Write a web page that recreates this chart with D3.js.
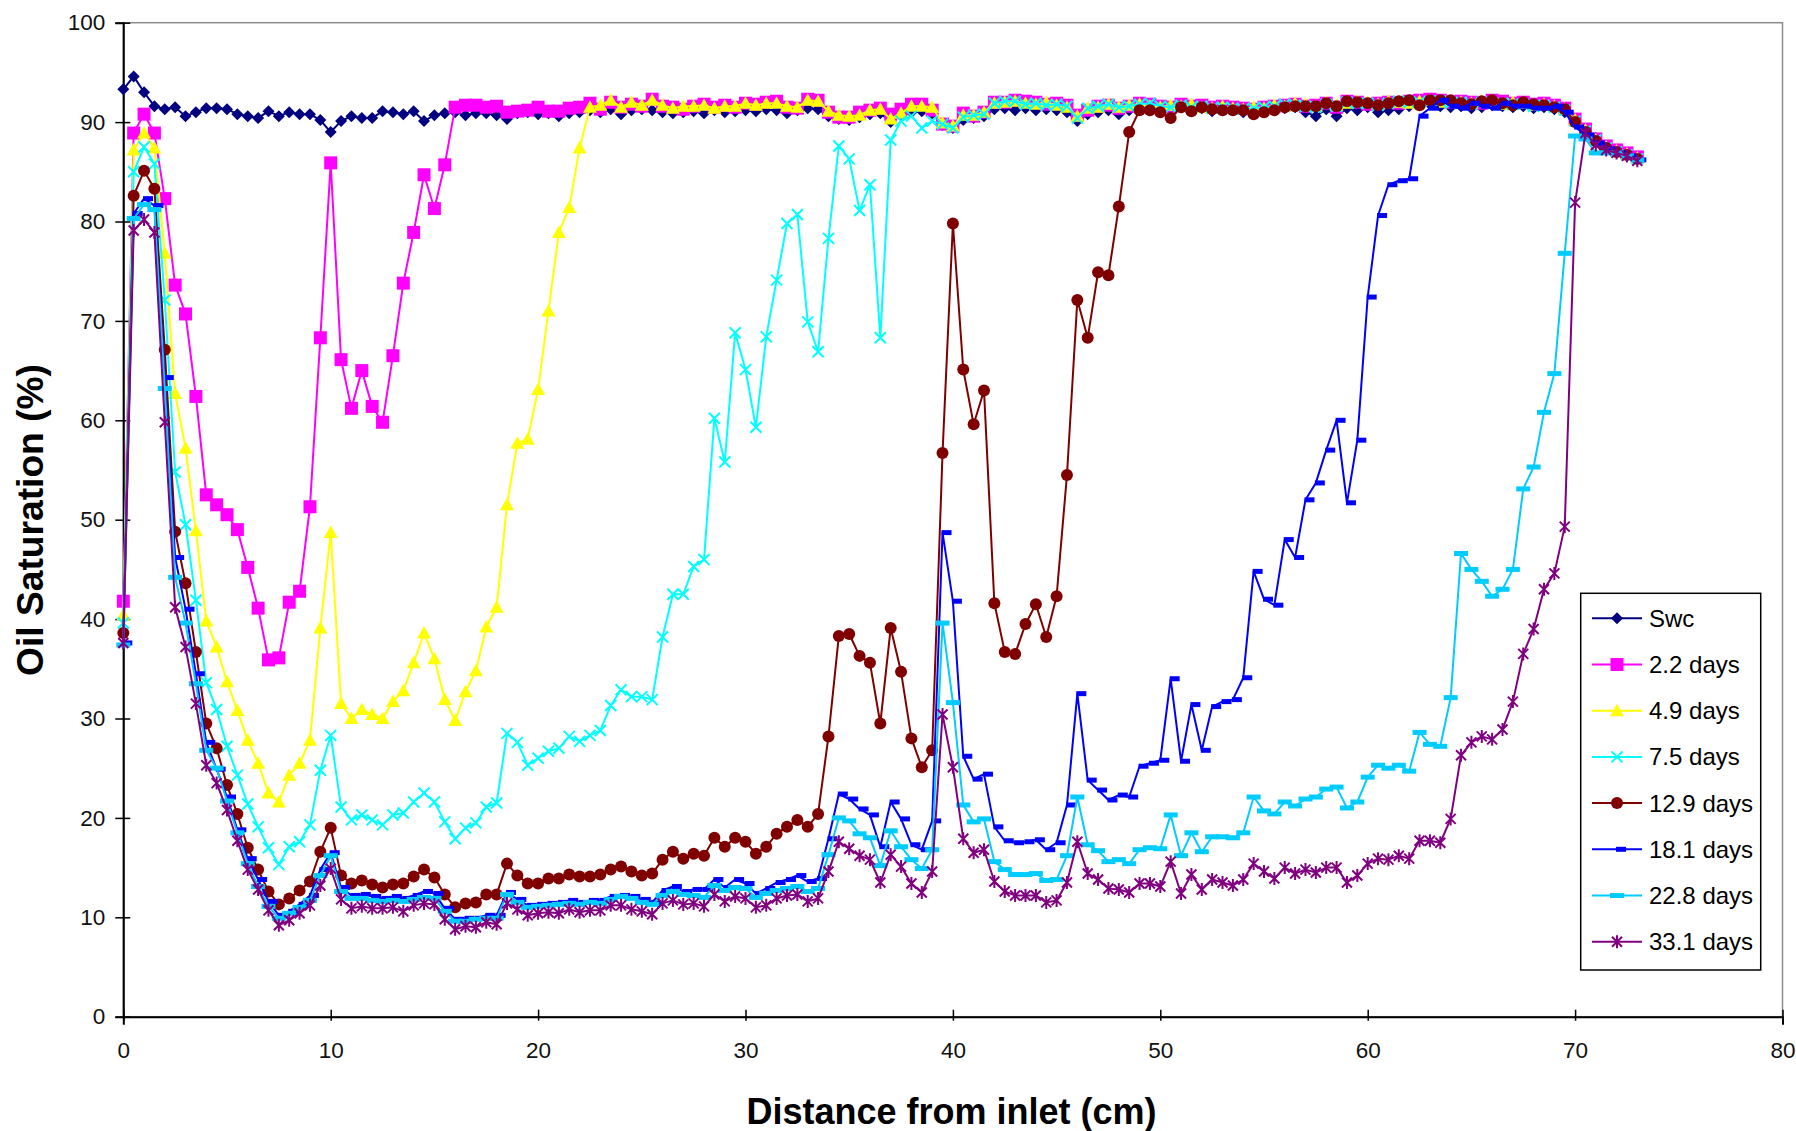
<!DOCTYPE html>
<html><head><meta charset="utf-8">
<script src="https://cdn.jsdelivr.net/npm/d3@7/dist/d3.min.js"></script>
<style>body{margin:0;background:#fff}svg{display:block}</style>
</head><body>
<svg id="c" width="1796" height="1131"></svg>
<script>
// distance from inlet (cm)
const distance = [
0,0.5,1,1.5,2,2.5,3,3.5,4,4.5,
5,5.5,6,6.5,7,7.5,8,8.5,9,9.5,
10,10.5,11,11.5,12,12.5,13,13.5,14,14.5,
15,15.5,16,16.5,17,17.5,18,18.5,19,19.5,
20,20.5,21,21.5,22,22.5,23,23.5,24,24.5,
25,25.5,26,26.5,27,27.5,28,28.5,29,29.5,
30,30.5,31,31.5,32,32.5,33,33.5,34,34.5,
35,35.5,36,36.5,37,37.5,38,38.5,39,39.5,
40,40.5,41,41.5,42,42.5,43,43.5,44,44.5,
45,45.5,46,46.5,47,47.5,48,48.5,49,49.5,
50,50.5,51,51.5,52,52.5,53,53.5,54,54.5,
55,55.5,56,56.5,57,57.5,58,58.5,59,59.5,
60,60.5,61,61.5,62,62.5,63,63.5,64,64.5,
65,65.5,66,66.5,67,67.5,68,68.5,69,69.5,
70,70.5,71,71.5,72,72.5,73];

const swc = [
93.3,94.6,93.0,91.6,91.3,91.5,90.6,91.0,91.4,91.4,
91.3,90.8,90.6,90.4,91.1,90.6,91.0,90.8,90.8,90.2,
89.0,90.1,90.6,90.4,90.4,91.1,91.0,90.8,91.1,90.1,
90.7,90.9,91.0,90.7,90.9,90.9,90.7,90.3,90.9,91.0,
90.8,90.9,90.6,90.9,91.0,91.2,91.0,91.3,90.8,91.2,
91.3,91.2,91.0,90.9,91.0,91.1,90.9,91.2,91.0,91.1,
91.2,91.1,91.3,91.2,90.9,91.2,91.4,91.3,90.6,90.3,
90.2,90.5,90.8,90.9,90.0,90.7,91.0,91.1,90.9,89.7,
89.4,90.2,90.4,90.6,91.3,91.4,91.2,91.4,91.2,91.3,
91.2,91.0,90.1,90.8,91.0,91.2,90.8,91.2,91.4,91.3,
91.1,91.3,91.5,91.2,91.4,91.1,91.2,91.3,91.0,91.2,
91.0,91.3,91.4,91.5,91.0,90.6,91.3,90.6,91.4,91.2,
91.5,91.0,91.2,91.3,91.6,91.7,91.8,91.6,91.5,91.6,
91.4,91.5,91.7,91.6,91.5,91.6,91.4,91.5,91.3,91.0,
90.0,89.2,88.4,87.6,87.1,86.8,86.4];

const days2_2 = [
41.8,88.9,90.8,88.9,82.3,73.6,70.7,62.4,52.5,51.5,
50.5,49.0,45.2,41.1,35.9,36.1,41.7,42.8,51.3,68.3,
85.9,66.1,61.2,65.0,61.4,59.8,66.5,73.8,78.9,84.7,
81.3,85.7,91.5,91.7,91.7,91.5,91.6,91.0,91.1,91.2,
91.5,91.1,91.1,91.4,91.5,91.9,91.3,92.0,91.5,91.8,
91.6,92.3,91.6,91.5,91.3,91.6,91.8,91.5,91.7,91.5,
91.9,91.8,92.0,92.1,91.5,91.4,92.3,92.2,91.0,90.5,
90.5,91.0,91.2,91.4,90.8,91.3,91.8,91.8,91.2,89.8,
89.6,90.9,90.6,91.0,92.0,92.0,92.2,92.1,92.0,91.8,
91.9,91.7,90.7,91.2,91.6,91.7,91.4,91.6,91.9,91.8,
91.6,91.5,91.8,91.6,91.7,91.5,91.6,91.5,91.4,91.3,
91.5,91.6,91.7,91.8,91.6,91.7,91.9,91.5,92.1,92.0,
91.8,91.9,92.0,91.9,92.1,92.2,92.3,92.2,92.0,92.1,
92.0,91.9,92.2,92.1,91.9,92.0,91.8,91.9,91.7,91.4,
90.3,89.3,88.3,87.6,87.2,86.9,86.5];

const days4_9 = [
40.4,87.2,88.9,87.4,76.8,62.7,57.2,48.9,39.8,37.2,
33.7,30.8,27.8,25.5,22.5,21.6,24.3,25.5,27.8,39.1,
48.7,31.5,30.0,30.9,30.4,30.0,31.7,32.8,35.6,38.6,
36.0,31.9,29.8,32.7,34.8,39.2,41.2,51.5,57.7,58.1,
63.1,71.0,78.9,81.4,87.4,91.5,91.7,92.2,91.5,92.0,
91.7,92.2,91.7,91.4,91.6,91.6,91.7,91.4,91.6,91.6,
91.9,91.7,91.9,91.9,91.6,91.5,92.2,92.1,91.1,90.7,
90.6,90.7,91.2,91.3,90.3,90.9,91.6,91.6,91.5,89.9,
89.6,90.7,90.7,91.0,91.9,92.0,92.1,91.9,91.8,92.0,
91.7,91.5,90.6,91.4,91.5,91.8,91.5,91.7,91.8,91.6,
91.5,91.7,91.6,91.8,91.5,91.4,91.6,91.4,91.3,91.5,
91.4,91.7,91.6,91.9,91.8,91.6,92.0,91.7,91.9,92.1,
92.0,91.8,92.1,92.0,91.9,92.1,92.2,92.0,92.1,92.0,
91.9,92.1,92.0,91.8,92.0,91.9,91.7,91.8,91.6,91.3,
90.2,89.2,88.2,87.5,87.1,86.8,86.4];

const days7_5 = [
39.6,85.0,87.5,85.8,72.1,54.8,49.5,41.9,33.6,30.9,
27.2,24.3,21.4,19.1,17.0,15.3,17.1,17.6,19.3,24.8,
28.3,21.1,19.8,20.3,19.8,19.3,20.3,20.5,21.6,22.5,
21.6,19.6,17.9,19.0,19.5,21.1,21.5,28.5,27.6,25.3,
26.0,26.7,27.0,28.2,27.7,28.3,28.8,31.3,32.9,32.2,
32.2,31.9,38.2,42.5,42.5,45.3,46.0,60.2,55.8,68.8,
65.1,59.3,68.4,74.1,79.8,80.7,69.9,66.9,78.3,87.6,
86.3,81.1,83.7,68.3,88.2,90.1,90.6,89.4,90.1,89.8,
89.4,90.5,90.7,90.8,91.9,92.1,92.1,91.8,91.9,91.7,
91.8,91.6,90.4,91.4,91.6,91.8,91.5,91.6,91.8,91.9,
91.6,91.5,91.7,91.5,91.6,91.4,91.5,91.4,91.3,91.4,
91.5,91.6,91.8,91.7,91.6,91.5,91.8,91.6,92.0,91.9,
91.9,91.7,91.9,92.1,92.0,92.0,92.1,92.1,91.9,92.0,
91.8,92.0,91.9,91.9,91.8,91.8,91.6,91.7,91.5,91.2,
90.1,89.1,88.2,87.4,87.0,86.7,86.3];

const days12_9 = [
38.6,82.6,85.1,83.3,67.1,48.8,43.6,36.7,29.5,27.0,
23.3,20.4,17.0,14.8,12.6,11.3,11.9,12.7,13.6,16.6,
19.0,14.2,13.4,13.7,13.3,13.0,13.3,13.4,14.1,14.8,
14.0,12.3,11.0,11.4,11.5,12.3,12.3,15.4,14.2,13.4,
13.4,13.9,13.9,14.3,14.1,14.1,14.3,14.8,15.1,14.6,
14.2,14.4,15.8,16.6,15.9,16.4,16.2,18.0,17.1,18.0,
17.6,16.4,17.1,18.4,19.1,19.8,19.1,20.4,28.2,38.3,
38.5,36.3,35.6,29.5,39.1,34.7,28.0,25.1,26.8,56.7,
79.8,65.1,59.6,63.0,41.6,36.7,36.5,39.5,41.5,38.2,
42.3,54.5,72.1,68.3,74.9,74.6,81.5,89.0,91.2,91.2,
91.0,90.4,91.5,91.1,91.5,91.3,91.2,91.2,91.2,90.8,
91.0,91.2,91.5,91.6,91.6,91.6,91.9,91.6,92.1,92.0,
91.9,91.7,91.9,92.1,92.2,91.7,92.2,92.2,92.2,91.9,
91.8,92.1,92.2,91.9,91.7,92.0,91.8,91.7,91.5,91.3,
90.0,89.0,88.1,87.4,87.0,86.7,86.3];

const days18_1 = [
37.6,80.8,82.3,81.6,64.3,46.2,41.0,34.5,27.6,24.9,
22.1,18.8,15.9,13.8,11.6,10.2,10.6,11.3,12.2,14.8,
16.5,13.0,12.2,12.3,12.1,11.9,12.1,11.9,12.2,12.6,
12.4,10.9,9.8,9.9,9.9,10.2,10.2,12.5,11.8,11.2,
11.3,11.4,11.5,11.7,11.5,11.7,11.7,12.1,12.2,12.1,
11.8,11.5,12.7,13.1,12.6,12.8,12.8,13.8,13.0,13.8,
13.4,12.4,12.9,13.5,13.8,14.2,13.6,13.9,17.9,22.4,
21.9,20.9,20.3,17.1,21.6,19.9,17.3,16.8,19.7,48.7,
41.8,26.2,23.9,24.4,19.1,17.7,17.5,17.6,17.8,16.8,
17.5,21.3,32.5,23.8,22.8,21.8,22.3,22.1,25.2,25.5,
25.8,34.0,25.7,31.4,26.8,31.2,31.7,31.9,34.1,44.8,
42.0,41.4,48.0,46.2,52.0,53.7,57.0,60.0,51.7,58.0,
72.4,80.6,83.7,84.1,84.3,90.6,91.4,92.2,91.6,91.4,
91.9,91.6,91.4,91.9,91.6,91.6,91.4,91.4,91.6,91.0,
89.5,88.7,87.9,87.3,86.9,86.6,86.2];

const days22_8 = [
37.4,80.3,81.7,81.2,63.2,44.2,39.6,33.5,26.8,25.0,
21.7,18.5,15.4,13.1,11.1,9.9,10.4,11.0,11.7,14.2,
16.2,12.6,11.9,11.9,11.7,11.6,11.7,11.6,11.8,12.0,
11.9,10.6,9.6,9.6,9.8,9.9,9.9,12.3,11.5,11.0,
11.1,11.2,11.3,11.4,11.3,11.5,11.4,11.8,12.1,11.9,
11.5,11.3,12.2,12.6,12.3,12.2,12.0,13.2,12.7,13.0,
12.9,12.0,12.4,12.7,12.9,13.1,12.6,12.9,16.3,20.0,
19.7,18.4,18.0,15.2,18.7,17.1,15.8,14.9,16.8,39.6,
31.6,21.3,19.6,19.9,15.6,14.8,14.3,14.3,14.4,13.7,
13.8,16.2,22.1,17.3,16.7,15.6,15.8,15.4,16.8,17.0,
16.9,20.3,16.2,18.5,16.6,18.1,18.1,18.0,18.5,22.1,
20.7,20.4,21.6,21.2,21.9,22.1,22.9,23.1,21.0,21.6,
24.1,25.3,25.0,25.3,24.7,28.6,27.4,27.2,32.1,46.6,
45.0,43.8,42.3,43.0,45.0,53.1,55.3,60.8,64.7,76.8,
88.6,88.3,86.9,86.9,86.9,86.6,86.2];

const days33_1 = [
37.6,79.1,80.2,78.9,59.8,41.2,37.2,31.5,25.3,23.5,
20.8,17.7,14.8,12.8,10.7,9.2,9.7,10.4,11.2,13.2,
14.9,11.8,10.9,11.1,10.9,10.9,11.0,10.6,11.2,11.4,
11.3,9.8,8.8,9.1,9.0,9.5,9.3,11.4,10.8,10.2,
10.4,10.5,10.4,10.8,10.5,10.7,10.7,11.2,11.2,10.8,
10.6,10.3,11.4,11.7,11.3,11.4,11.1,12.3,11.6,12.1,
11.9,11.0,11.2,11.9,12.2,12.3,11.6,11.9,14.6,17.6,
16.9,16.2,15.8,13.5,16.3,15.1,13.4,12.5,14.6,30.4,
25.1,17.9,16.5,16.8,13.6,12.6,12.2,12.2,12.2,11.5,
11.7,13.5,17.6,14.4,13.8,12.9,12.8,12.5,13.4,13.4,
13.1,15.6,12.4,14.3,12.8,13.8,13.5,13.2,13.8,15.4,
14.6,13.9,15.0,14.4,14.8,14.5,15.0,15.0,13.5,14.2,
15.4,15.9,15.8,16.2,15.9,17.7,17.7,17.5,19.9,26.3,
27.6,28.2,27.9,28.9,31.7,36.5,39.0,43.0,44.6,49.3,
81.9,88.9,87.7,87.2,86.9,86.6,86.1];

const seriesNames = ["Swc","2.2 days","4.9 days","7.5 days","12.9 days","18.1 days","22.8 days","33.1 days"];
const seriesValues = [swc, days2_2, days4_9, days7_5, days12_9, days18_1, days22_8, days33_1];
const xTicks = [0,10,20,30,40,50,60,70,80];
const yTicks = [0,10,20,30,40,50,60,70,80,90,100];

// styles (not data)
const styles = [
  {color:"#000080", marker:"diamond"},
  {color:"#FF00FF", marker:"square"},
  {color:"#FFFF00", marker:"triangle"},
  {color:"#00FFFF", marker:"cross"},
  {color:"#800000", marker:"circle"},
  {color:"#0000FF", marker:"dash"},
  {color:"#00CCFF", marker:"wdash"},
  {color:"#800080", marker:"star"}
];
const markerPaths = {
  diamond: "M0,-6L6,0L0,6L-6,0Z",
  square: "M-6.5,-6.5h13v13h-13Z",
  triangle: "M0,-7L7,5.5L-7,5.5Z",
  cross: "M-5.5,-5.5L5.5,5.5M-5.5,5.5L5.5,-5.5",
  circle: "M6,0A6,6 0 1,1 -6,0A6,6 0 1,1 6,0Z",
  dash: "M-1,-2.5h10v5h-10Z",
  wdash: "M-7,-2.5h14v5h-14Z",
  star: "M-5,-5L5,5M-5,5L5,-5M0,-6.5V6.5"
};
const strokeMarkers = new Set(["cross","star"]);

const svg = d3.select("#c");
const x = d3.scaleLinear().domain([0,80]).range([123.3,1782.5]);
const y = d3.scaleLinear().domain([0,100]).range([1016.7,22.7]);

// plot frame
svg.append("rect").attr("x",x(0)).attr("y",y(100)).attr("width",x(80)-x(0)).attr("height",y(0)-y(100))
  .attr("fill","none").attr("stroke","#8c8c8c").attr("stroke-width",1.5);

const font = "'Liberation Sans', Arial, sans-serif";

// axes
const gy = svg.append("g").attr("transform",`translate(${x(0)},0)`)
  .call(d3.axisLeft(y).tickValues(yTicks).tickSize(8).tickPadding(10));
gy.select(".domain").attr("stroke","#000").attr("stroke-width",2);
gy.selectAll(".tick line").attr("x1",7).attr("x2",-8).attr("stroke","#000").attr("stroke-width",1.5);
gy.selectAll(".tick text").attr("x",-18).attr("font-family",font).attr("font-size",22.5).attr("fill","#111");

const gx = svg.append("g").attr("transform",`translate(0,${y(0)})`)
  .call(d3.axisBottom(x).tickValues(xTicks).tickSize(8));
gx.select(".domain").attr("stroke","#000").attr("stroke-width",2);
gx.selectAll(".tick line").attr("y1",-7).attr("y2",4).attr("stroke","#000").attr("stroke-width",1.5);
gx.selectAll(".tick text").attr("y",33).attr("dy","0.35em").attr("font-family",font).attr("font-size",22.5).attr("fill","#111");

// series
const line = d3.line().x(d=>x(d[0])).y(d=>y(d[1]));
seriesValues.forEach((vals,i)=>{
  const st = styles[i];
  const pts = vals.map((v,j)=>[distance[j], v]);
  const g = svg.append("g");
  g.append("path").datum(pts).attr("d",line).attr("fill","none")
    .attr("stroke",st.color).attr("stroke-width",2).attr("stroke-linejoin","round");
  const sm = strokeMarkers.has(st.marker);
  g.selectAll("path.m").data(pts).join("path").attr("class","m")
    .attr("transform",d=>`translate(${x(d[0])},${y(d[1])})`)
    .attr("d",markerPaths[st.marker])
    .attr("fill", sm ? "none" : st.color)
    .attr("stroke", sm ? st.color : "none")
    .attr("stroke-width", sm ? 2 : 0);
});

// legend
const lg = svg.append("g");
lg.append("rect").attr("x",1580.7).attr("y",593.3).attr("width",180).attr("height",376.7)
  .attr("fill","#fff").attr("stroke","#000").attr("stroke-width",1.5);
seriesNames.forEach((name,i)=>{
  const st = styles[i];
  const ly = 618.3 + i*46.2;
  lg.append("line").attr("x1",1592).attr("x2",1642).attr("y1",ly).attr("y2",ly)
    .attr("stroke",st.color).attr("stroke-width",2);
  const sm = strokeMarkers.has(st.marker);
  lg.append("path").attr("transform",`translate(1617,${ly})`).attr("d",markerPaths[st.marker])
    .attr("fill", sm ? "none" : st.color).attr("stroke", sm ? st.color : "none").attr("stroke-width", sm?2:0);
  lg.append("text").attr("x",1649).attr("y",ly).attr("dy","0.35em")
    .attr("font-family",font).attr("font-size",24).attr("fill","#000").text(name);
});

// titles
svg.append("text").attr("x",951.5).attr("y",1124).attr("text-anchor","middle")
  .attr("font-family",font).attr("font-weight","bold").attr("font-size",36).attr("fill","#000")
  .text("Distance from inlet (cm)");
svg.append("text").attr("transform","translate(43,520) rotate(-90)").attr("text-anchor","middle")
  .attr("font-family",font).attr("font-weight","bold").attr("font-size",37).attr("fill","#000")
  .attr("textLength",312).attr("lengthAdjust","spacingAndGlyphs")
  .text("Oil Saturation (%)");
</script>
</body></html>
